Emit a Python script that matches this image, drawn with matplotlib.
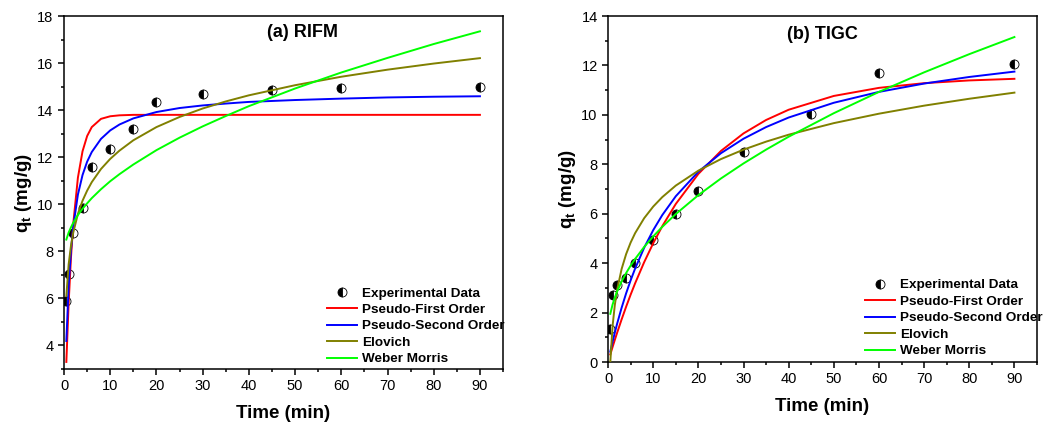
import matplotlib
matplotlib.use("Agg")
import matplotlib.pyplot as plt
from matplotlib.ticker import MultipleLocator

plt.rcParams['font.family'] = ['Liberation Sans', 'DejaVu Sans']
plt.rcParams['mathtext.fontset'] = 'custom'
plt.rcParams['mathtext.bf'] = 'Liberation Sans:bold'
plt.rcParams['mathtext.rm'] = 'Liberation Sans'

# ---- experimental data ----
t_exp = [0.5, 1, 2, 4, 6, 10, 15, 20, 30, 45, 60, 90]
q_exp_a = [5.9, 7.05, 8.8, 9.85, 11.6, 12.35, 13.2, 14.35, 14.7, 14.85, 14.95, 15.0]
q_exp_b = [1.35, 2.7, 3.1, 3.4, 4.0, 4.95, 6.0, 6.9, 8.5, 10.05, 11.7, 12.05]

# ---- model curves ----
t_fit = [0.5, 1, 1.5, 2, 3, 4, 5, 6, 8, 10, 12, 15, 20, 25, 30, 35, 40, 50, 60, 70, 80, 90]

pfo_a = [3.30, 5.81, 7.73, 9.18, 11.13, 12.25, 12.90, 13.28, 13.63, 13.74, 13.78, 13.80,
         13.80, 13.80, 13.80, 13.80, 13.80, 13.80, 13.80, 13.80, 13.80, 13.80]
pso_a = [4.19, 6.53, 8.03, 9.06, 10.41, 11.24, 11.81, 12.22, 12.78, 13.14, 13.39, 13.65,
         13.92, 14.09, 14.20, 14.28, 14.35, 14.43, 14.49, 14.54, 14.57, 14.59]
elo_a = [6.10, 7.45, 8.24, 8.80, 9.59, 10.15, 10.58, 10.94, 11.50, 11.93, 12.28, 12.72,
         13.28, 13.71, 14.07, 14.37, 14.63, 15.06, 15.42, 15.72, 15.98, 16.21]
wm_a = [8.50, 8.80, 9.02, 9.22, 9.54, 9.81, 10.04, 10.26, 10.64, 10.98, 11.28, 11.69,
        12.30, 12.83, 13.31, 13.75, 14.17, 14.92, 15.60, 16.22, 16.81, 17.35]

pfo_b = [0.306, 0.605, 0.895, 1.178, 1.721, 2.236, 2.725, 3.187, 4.040, 4.806, 5.493, 6.396,
         7.611, 8.540, 9.250, 9.793, 10.208, 10.766, 11.093, 11.283, 11.394, 11.459]
pso_b = [0.421, 0.817, 1.191, 1.543, 2.192, 2.777, 3.305, 3.785, 4.625, 5.335, 5.943, 6.708,
         7.700, 8.449, 9.035, 9.506, 9.893, 10.490, 10.930, 11.267, 11.534, 11.751]
elo_b = [0.0, 1.455, 2.306, 2.910, 3.761, 4.365, 4.833, 5.216, 5.820, 6.289, 6.671, 7.139,
         7.743, 8.211, 8.593, 8.917, 9.198, 9.666, 10.048, 10.373, 10.652, 10.900]
wm_b = [1.950, 2.324, 2.610, 2.852, 3.257, 3.599, 3.900, 4.172, 4.656, 5.082, 5.467, 5.988,
        6.753, 7.426, 8.035, 8.594, 9.116, 10.068, 10.929, 11.721, 12.457, 13.150]

labels = ["Experimental Data", "Pseudo-First Order", "Pseudo-Second Order", "Elovich", "Weber Morris"]
colors = ["#FF0000", "#0000FF", "#808000", "#00FF00"]
titles = ["(a) RIFM", "(b) TIGC"]

fig = plt.figure(figsize=(10.48, 4.26), dpi=100)
ax_a = fig.add_axes([0.0611, 0.1338, 0.4189, 0.8286])
ax_b = fig.add_axes([0.5802, 0.1502, 0.4093, 0.8122])

panels = [
    (ax_a, q_exp_a, [pfo_a, pso_a, elo_a, wm_a], (3, 18), (51.5, 17.3), 0.232),
    (ax_b, q_exp_b, [pfo_b, pso_b, elo_b, wm_b], (0, 14), (47.4, 13.27), 0.240),
]

for i, (ax, qe, fits, ylim, tpos, legy) in enumerate(panels):
    ax.plot(t_exp, qe, linestyle='none', marker='o', fillstyle='left',
            markersize=6.5, markerfacecolor='black', markerfacecoloralt='white',
            markeredgecolor='black', markeredgewidth=0.6, label=labels[0], zorder=2)
    for f, c, lab in zip(fits, colors, labels[1:]):
        ax.plot(t_fit, f, color=c, lw=1.4, label=lab, zorder=3)
    ax.set_xlim(0, 95)
    ax.set_ylim(*ylim)
    ax.xaxis.set_major_locator(MultipleLocator(10))
    ax.xaxis.set_minor_locator(MultipleLocator(5))
    ax.yaxis.set_major_locator(MultipleLocator(2))
    ax.yaxis.set_minor_locator(MultipleLocator(1))
    ax.tick_params(which='both', direction='out', top=False, right=False, width=1.1)
    ax.tick_params(which='major', length=4, labelsize=10.5)
    ax.tick_params(which='minor', length=2.5)
    for s in ax.spines.values():
        s.set_linewidth(1.1)
    ax.set_xlabel("Time (min)", fontsize=13.5, fontweight='bold', labelpad=8)
    ax.set_ylabel(r"$\mathbf{q_t}$ (mg/g)", fontsize=13.5, fontweight='bold', labelpad=2)
    ax.text(tpos[0], tpos[1], titles[i], fontsize=13, fontweight='bold',
            ha='center', va='center')
    leg = ax.legend(loc='upper left', bbox_to_anchor=(0.60, legy), frameon=False,
                    borderaxespad=0, borderpad=0, handlelength=2.2, handletextpad=0.35,
                    labelspacing=0.3, prop={'weight': 'bold', 'size': 9.7})
    leg.set_zorder(1)

fig.savefig("out.png", dpi=100)
